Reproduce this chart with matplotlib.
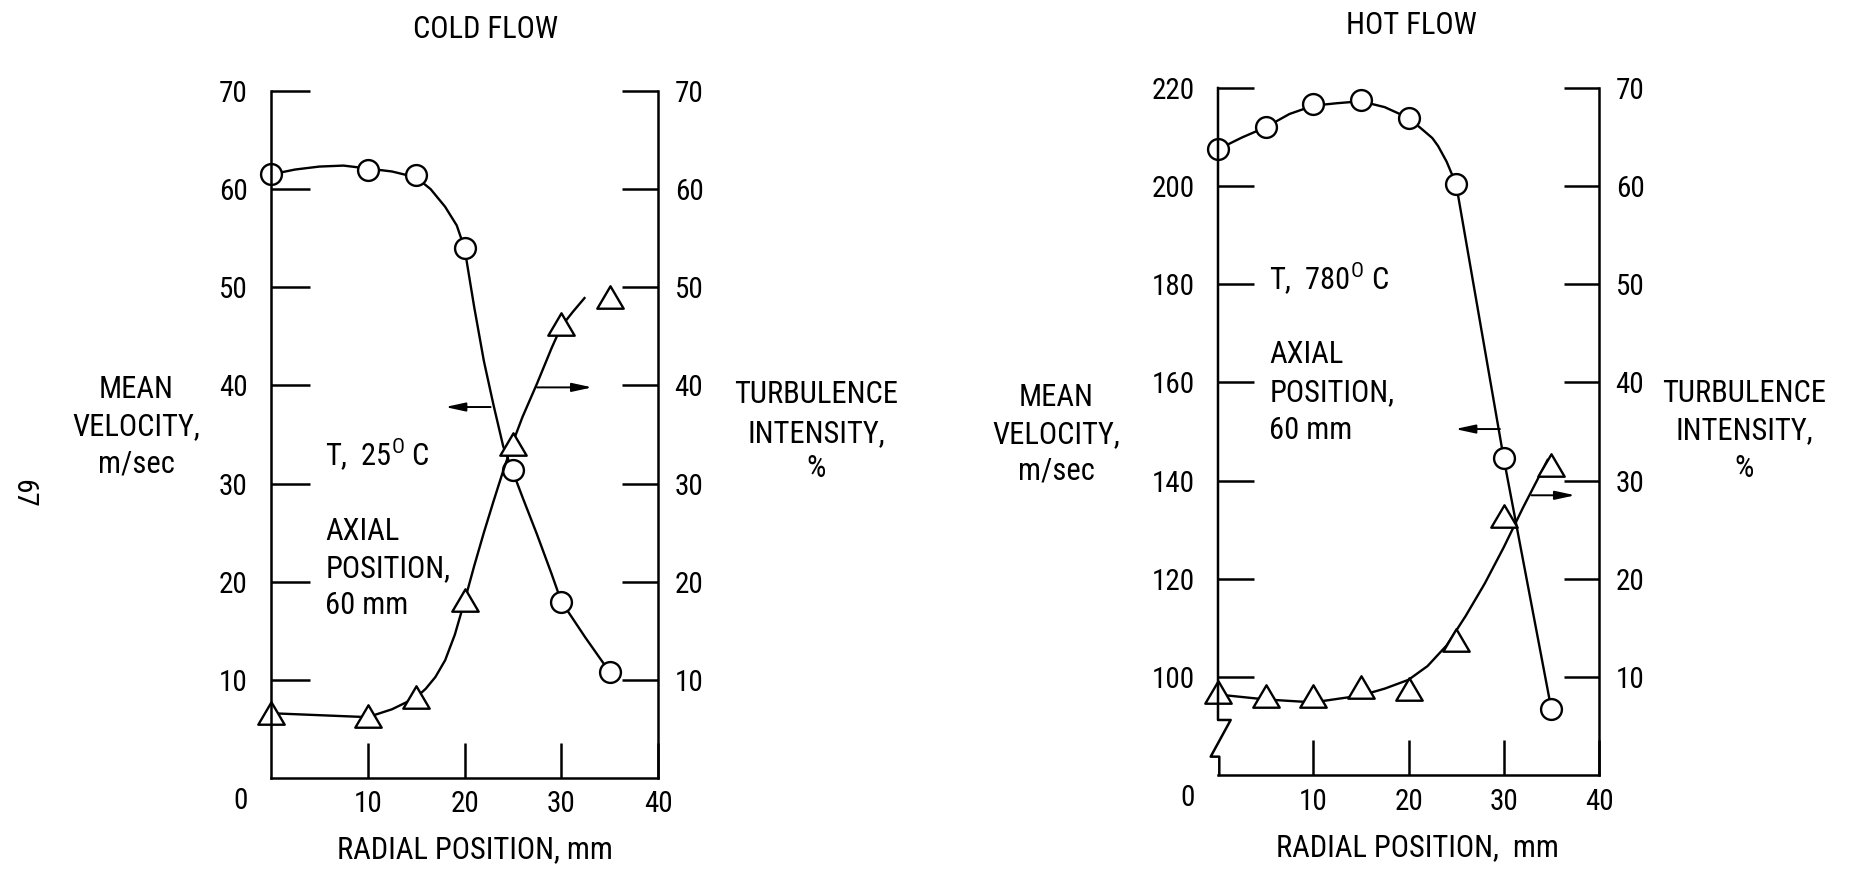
import numpy as np
import matplotlib.pyplot as plt
from matplotlib import font_manager as fm
from matplotlib.path import Path
from matplotlib.lines import Line2D

# the original lettering is a narrow sans; take the narrowest one installed
entries = fm.fontManager.ttflist
names = {f.name for f in entries}
FAMILY, STRETCH, FS = 'Liberation Sans', 'normal', 18
for cand, size in (('Liberation Sans Narrow', 22), ('Roboto Condensed', 22),
                   ('DejaVu Sans Condensed', 19.5), ('Noto Sans Condensed', 20),
                   ('Open Sans Condensed', 20)):
    if cand in names:
        FAMILY, FS = cand, size
        break
else:
    if any(f.name == 'DejaVu Sans' and 'condensed' in str(f.stretch) for f in entries):
        FAMILY, STRETCH, FS = 'DejaVu Sans', 'condensed', 19.5
TFS = FS - 1

plt.rcParams['font.family'] = [FAMILY, 'DejaVu Sans']
plt.rcParams['font.stretch'] = STRETCH
plt.rcParams['mathtext.fontset'] = 'custom'
plt.rcParams['mathtext.rm'] = FAMILY + (':stretch=condensed' if STRETCH != 'normal' else '')

W, H = 1850, 875

# cold flow, T = 25 C: measured points
cold_r = [0, 10, 15, 20, 25, 30, 35]
cold_vel = [61.5, 62.0, 61.4, 54.0, 31.4, 17.9, 10.8]
cold_turb = [6.6, 6.3, 8.3, 18.1, 34.0, 46.3, 49.0]

# faired curves as drawn on the original
cold_vel_fit_r = [0, 2.5, 5, 7.5, 10, 12.5, 15, 16.5, 18, 19.2, 20, 21, 22, 23, 24, 25, 26, 27.5, 29, 30, 32.5, 35]
cold_vel_fit = [61.5, 62.0, 62.3, 62.4, 62.1, 61.8, 61.2, 60.0, 58.2, 56.3, 54.0, 48.0, 42.5, 38.0, 33.8, 31.2,
                28.6, 24.8, 20.8, 18.0, 14.3, 10.8]
cold_turb_fit_r = [0, 5, 10, 12.5, 15, 16, 17, 18, 19, 20, 21, 22, 23, 24, 25, 26, 27.5, 29, 30, 31.2, 32.4]
cold_turb_fit = [6.6, 6.4, 6.2, 7.0, 8.2, 9.1, 10.3, 12.0, 14.6, 18.0, 21.6, 25.0, 28.2, 31.3, 34.2, 36.8,
                 40.2, 43.8, 46.0, 47.5, 48.9]

# hot flow, T = 780 C
hot_r = [0, 5, 10, 15, 20, 25, 30, 35]
hot_vel = [207.5, 212.1, 216.7, 217.5, 213.8, 200.4, 144.5, 93.4]
hot_turb = [8.5, 8.1, 8.0, 9.0, 8.8, 13.8, 26.4, 31.6]

hot_vel_fit_r = [0, 2.5, 5, 7.5, 10, 12.5, 15, 17.5, 20, 21.6, 22.5, 23.1, 24, 25, 30, 35]
hot_vel_fit = [207.5, 209.9, 212.0, 214.7, 216.4, 216.9, 217.3, 216.1, 213.9, 211.3, 209.8, 208.2, 205.0, 200.4,
               144.5, 93.4]
hot_turb_fit_r = [0, 5, 10, 15, 17.5, 20, 22, 24, 26, 28, 30, 32, 34.6]
hot_turb_fit = [8.2, 7.7, 7.4, 8.1, 8.8, 9.7, 11.1, 13.2, 16.2, 19.5, 23.2, 27.2, 32.1]

cold_vel_ticks = list(range(10, 71, 10))
hot_vel_ticks = list(range(100, 221, 20))
turb_ticks = list(range(10, 71, 10))
r_ticks = [10, 20, 30, 40]

# wide, low triangle like the original symbols
tri = Path([(0, 0.85), (-1, -0.85), (1, -0.85), (0, 0.85)],
           [Path.MOVETO, Path.LINETO, Path.LINETO, Path.CLOSEPOLY])

LW = 1.8
CLW = 1.7

fig = plt.figure(figsize=(W / 100, H / 100), dpi=100)


def ftext(x, y, s, **kw):
    kw.setdefault('fontsize', FS)
    kw.setdefault('ha', 'center')
    kw.setdefault('va', 'baseline')
    fig.text(x / W, 1 - y / H, s, **kw)


def style(ax, ax2, vlim, vticks, left_len, right_len):
    for s in ax.spines.values():
        s.set_visible(False)
    for name, s in ax2.spines.items():
        s.set_visible(name in ('left', 'right', 'bottom'))
        s.set_linewidth(LW)
    ax.set_xlim(0, 40)
    ax.set_ylim(*vlim)
    ax.set_xticks(r_ticks)
    ax.set_yticks(vticks)
    ax.tick_params(axis='x', direction='in', length=25, width=LW, pad=9, labelsize=TFS)
    ax.tick_params(axis='y', direction='in', length=left_len, width=LW, pad=17, labelsize=TFS)
    ax2.set_ylim(0, 70)
    ax2.set_yticks(turb_ticks)
    ax2.tick_params(axis='y', direction='in', length=right_len, width=LW, pad=12, labelsize=TFS)
    ax.annotate('0', xy=(0, 0), xycoords='axes fraction', xytext=(-30, -23),
                textcoords='offset pixels', ha='center', va='center', fontsize=TFS)


def arrow(ax, x0, x1, y):
    ax.annotate('', xy=(x1, y), xytext=(x0, y),
                arrowprops=dict(arrowstyle='-|>,head_length=0.6,head_width=0.13', lw=1.4,
                                color='k', mutation_scale=20, shrinkA=0, shrinkB=0))


# ---------------- cold flow ----------------
ax = fig.add_axes([271 / W, 1 - 778 / H, 387 / W, 687 / H])
ax2 = ax.twinx()
style(ax, ax2, (0, 70), cold_vel_ticks, 28, 26)

ax.plot(cold_vel_fit_r, cold_vel_fit, color='k', lw=CLW, clip_on=False)
ax.plot(cold_r, cold_vel, ls='none', marker='o', ms=15, mfc='white', mec='k', mew=1.7, clip_on=False)
ax2.plot(cold_turb_fit_r, cold_turb_fit, color='k', lw=CLW, clip_on=False)
ax2.plot(cold_r, cold_turb, ls='none', marker=tri, ms=19, mfc='white', mec='k', mew=1.7, clip_on=False)

arrow(ax, 22.7, 18.0, 37.8)
arrow(ax2, 27.5, 33.2, 39.8)

ax.text(5.6, 31.8, r'T,  25$^{\mathrm{O}}$ C', fontsize=FS)
ax.text(5.6, 24.2, 'AXIAL', fontsize=FS)
ax.text(5.6, 20.5, 'POSITION,', fontsize=FS)
ax.text(5.6, 16.7, '60 mm', fontsize=FS)

# ---------------- hot flow ----------------
bx = fig.add_axes([1218 / W, 1 - 775 / H, 381 / W, 687 / H])
bx2 = bx.twinx()
style(bx, bx2, (80, 220), hot_vel_ticks, 26, 25)
bx2.spines['left'].set_visible(False)
# left axis with the break mark near the bottom
brk = Line2D([0, 0, 0.0333, -0.0192, 0.0034, 0.0034], [1, 0.0801, 0.0801, 0.0267, 0.0267, 0],
             transform=bx2.transAxes, color='k', lw=LW, clip_on=False, zorder=3)
bx2.add_line(brk)

bx.plot(hot_vel_fit_r, hot_vel_fit, color='k', lw=CLW, clip_on=False)
bx.plot(hot_r, hot_vel, ls='none', marker='o', ms=15, mfc='white', mec='k', mew=1.7, clip_on=False)
bx2.plot(hot_turb_fit_r, hot_turb_fit, color='k', lw=CLW, clip_on=False)
bx2.plot(hot_r, hot_turb, ls='none', marker=tri, ms=19, mfc='white', mec='k', mew=1.7, clip_on=False)
bx2.set_ylim(0, 70)

arrow(bx, 29.6, 24.9, 150.5)
arrow(bx2, 32.9, 37.5, 28.5)

bx.text(5.4, 178.9, r'T,  780$^{\mathrm{O}}$ C', fontsize=FS)
bx.text(5.4, 163.9, 'AXIAL', fontsize=FS)
bx.text(5.4, 156.1, 'POSITION,', fontsize=FS)
bx.text(5.4, 148.5, '60 mm', fontsize=FS)

# ---------------- labels ----------------
ftext(486, 38.5, 'COLD FLOW')
ftext(1411, 34.5, 'HOT FLOW')

for x, ys in ((136, (398, 435, 472)), (1056, (406, 443, 480))):
    for y, s in zip(ys, ('MEAN', 'VELOCITY,', 'm/sec')):
        ftext(x, y, s)
for x, ys in ((816, (403.5, 442, 477)), (1744, (401.5, 439.5, 477))):
    for y, s in zip(ys, ('TURBULENCE', 'INTENSITY,', '%')):
        ftext(x, y, s)

ftext(475, 858.5, 'RADIAL POSITION, mm')
ftext(1417, 856.5, 'RADIAL POSITION,  mm')
ftext(23, 493, '67', rotation=-90, va='center', fontsize=FS - 1)

fig.savefig('out.png', dpi=100, facecolor='white')
